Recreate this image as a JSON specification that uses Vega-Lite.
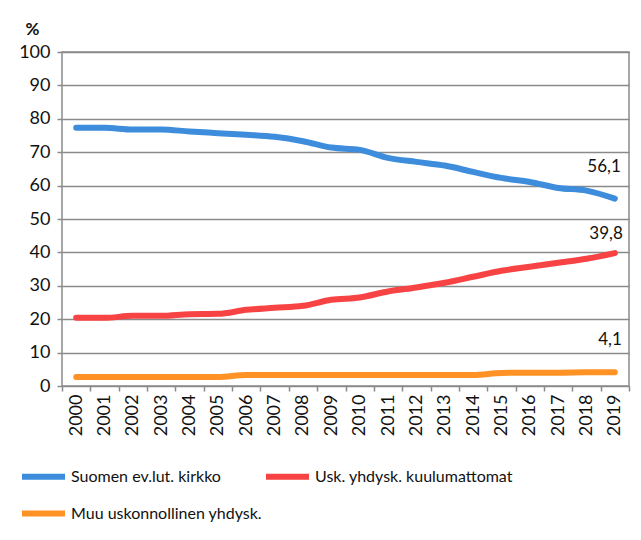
{
  "$schema": "https://vega.github.io/schema/vega-lite/v6.json",
  "width": 567,
  "height": 334,
  "autosize": {"type": "none"},
  "padding": {"left": 62, "top": 52, "right": 12, "bottom": 154},
  "background": "white",
  "config": {
    "font": "Lato",
    "view": {"stroke": "#8a8a8a", "strokeWidth": 1.5},
    "locale": {"number": {"decimal": ",", "thousands": " ", "grouping": [3], "currency": ["", " €"]}}
  },
  "data": {"values": [
    {"year": "2000", "series": "Suomen ev.lut. kirkko", "value": 77.3},
    {"year": "2001", "series": "Suomen ev.lut. kirkko", "value": 77.3},
    {"year": "2002", "series": "Suomen ev.lut. kirkko", "value": 76.8},
    {"year": "2003", "series": "Suomen ev.lut. kirkko", "value": 76.8},
    {"year": "2004", "series": "Suomen ev.lut. kirkko", "value": 76.2},
    {"year": "2005", "series": "Suomen ev.lut. kirkko", "value": 75.7},
    {"year": "2006", "series": "Suomen ev.lut. kirkko", "value": 75.2},
    {"year": "2007", "series": "Suomen ev.lut. kirkko", "value": 74.6},
    {"year": "2008", "series": "Suomen ev.lut. kirkko", "value": 73.3},
    {"year": "2009", "series": "Suomen ev.lut. kirkko", "value": 71.4},
    {"year": "2010", "series": "Suomen ev.lut. kirkko", "value": 70.7},
    {"year": "2011", "series": "Suomen ev.lut. kirkko", "value": 68.3},
    {"year": "2012", "series": "Suomen ev.lut. kirkko", "value": 67.1},
    {"year": "2013", "series": "Suomen ev.lut. kirkko", "value": 66.0},
    {"year": "2014", "series": "Suomen ev.lut. kirkko", "value": 64.1},
    {"year": "2015", "series": "Suomen ev.lut. kirkko", "value": 62.3},
    {"year": "2016", "series": "Suomen ev.lut. kirkko", "value": 61.1},
    {"year": "2017", "series": "Suomen ev.lut. kirkko", "value": 59.3},
    {"year": "2018", "series": "Suomen ev.lut. kirkko", "value": 58.5},
    {"year": "2019", "series": "Suomen ev.lut. kirkko", "value": 56.1},
    {"year": "2000", "series": "Usk. yhdysk. kuulumattomat", "value": 20.4},
    {"year": "2001", "series": "Usk. yhdysk. kuulumattomat", "value": 20.4},
    {"year": "2002", "series": "Usk. yhdysk. kuulumattomat", "value": 21.0},
    {"year": "2003", "series": "Usk. yhdysk. kuulumattomat", "value": 21.0},
    {"year": "2004", "series": "Usk. yhdysk. kuulumattomat", "value": 21.5},
    {"year": "2005", "series": "Usk. yhdysk. kuulumattomat", "value": 21.6},
    {"year": "2006", "series": "Usk. yhdysk. kuulumattomat", "value": 22.8},
    {"year": "2007", "series": "Usk. yhdysk. kuulumattomat", "value": 23.4},
    {"year": "2008", "series": "Usk. yhdysk. kuulumattomat", "value": 24.0},
    {"year": "2009", "series": "Usk. yhdysk. kuulumattomat", "value": 25.8},
    {"year": "2010", "series": "Usk. yhdysk. kuulumattomat", "value": 26.5},
    {"year": "2011", "series": "Usk. yhdysk. kuulumattomat", "value": 28.3},
    {"year": "2012", "series": "Usk. yhdysk. kuulumattomat", "value": 29.5},
    {"year": "2013", "series": "Usk. yhdysk. kuulumattomat", "value": 30.9},
    {"year": "2014", "series": "Usk. yhdysk. kuulumattomat", "value": 32.7},
    {"year": "2015", "series": "Usk. yhdysk. kuulumattomat", "value": 34.5},
    {"year": "2016", "series": "Usk. yhdysk. kuulumattomat", "value": 35.7},
    {"year": "2017", "series": "Usk. yhdysk. kuulumattomat", "value": 36.9},
    {"year": "2018", "series": "Usk. yhdysk. kuulumattomat", "value": 38.1},
    {"year": "2019", "series": "Usk. yhdysk. kuulumattomat", "value": 39.8},
    {"year": "2000", "series": "Muu uskonnollinen yhdysk.", "value": 2.7},
    {"year": "2001", "series": "Muu uskonnollinen yhdysk.", "value": 2.7},
    {"year": "2002", "series": "Muu uskonnollinen yhdysk.", "value": 2.7},
    {"year": "2003", "series": "Muu uskonnollinen yhdysk.", "value": 2.7},
    {"year": "2004", "series": "Muu uskonnollinen yhdysk.", "value": 2.7},
    {"year": "2005", "series": "Muu uskonnollinen yhdysk.", "value": 2.7},
    {"year": "2006", "series": "Muu uskonnollinen yhdysk.", "value": 3.3},
    {"year": "2007", "series": "Muu uskonnollinen yhdysk.", "value": 3.3},
    {"year": "2008", "series": "Muu uskonnollinen yhdysk.", "value": 3.3},
    {"year": "2009", "series": "Muu uskonnollinen yhdysk.", "value": 3.3},
    {"year": "2010", "series": "Muu uskonnollinen yhdysk.", "value": 3.3},
    {"year": "2011", "series": "Muu uskonnollinen yhdysk.", "value": 3.3},
    {"year": "2012", "series": "Muu uskonnollinen yhdysk.", "value": 3.3},
    {"year": "2013", "series": "Muu uskonnollinen yhdysk.", "value": 3.3},
    {"year": "2014", "series": "Muu uskonnollinen yhdysk.", "value": 3.3},
    {"year": "2015", "series": "Muu uskonnollinen yhdysk.", "value": 3.9},
    {"year": "2016", "series": "Muu uskonnollinen yhdysk.", "value": 4.0},
    {"year": "2017", "series": "Muu uskonnollinen yhdysk.", "value": 4.0},
    {"year": "2018", "series": "Muu uskonnollinen yhdysk.", "value": 4.1},
    {"year": "2019", "series": "Muu uskonnollinen yhdysk.", "value": 4.1}
  ]},
  "encoding": {
    "x": {
      "field": "year", "type": "ordinal", "bandPosition": 0.5,
      "scale": {"type": "band", "paddingInner": 0, "paddingOuter": 0},
      "axis": {
        "title": null, "labelAngle": -90, "labelAlign": "right", "labelBaseline": "middle",
        "labelFontSize": 18, "labelColor": "#111", "labelPadding": 3, "labelOverlap": false,
        "tickBand": "extent", "tickSize": 5, "tickColor": "#8a8a8a", "tickWidth": 1.5,
        "domain": false, "grid": false
      }
    },
    "y": {
      "field": "value", "type": "quantitative",
      "scale": {"domain": [0, 100], "nice": false},
      "axis": {
        "title": "%", "titleAngle": 0, "titleX": -30, "titleY": -14, "titleAlign": "center",
        "titleFontSize": 17, "titleFontWeight": "bold", "titleColor": "#111",
        "tickCount": 10,
        "labelFontSize": 18, "labelColor": "#111", "labelPadding": 7, "labelOverlap": false,
        "tickSize": 5, "tickColor": "#8a8a8a", "tickWidth": 1.5,
        "grid": true, "gridColor": "#8a8a8a", "gridWidth": 1.5, "domain": false
      }
    }
  },
  "layer": [
    {
      "mark": {"type": "line", "strokeWidth": 6, "strokeCap": "round", "strokeJoin": "round", "interpolate": "monotone"},
      "encoding": {
        "color": {
          "field": "series", "type": "nominal",
          "scale": {
            "domain": ["Suomen ev.lut. kirkko", "Usk. yhdysk. kuulumattomat", "Muu uskonnollinen yhdysk."],
            "range": ["#3d8ddc", "#f74343", "#ff9224"]
          },
          "legend": {
            "title": null, "orient": "none", "legendX": -43, "legendY": 400,
            "columns": 2, "direction": "horizontal",
            "symbolType": "stroke", "symbolSize": 1849, "symbolStrokeWidth": 6,
            "labelFontSize": 16, "labelColor": "#111", "labelOffset": 3, "labelLimit": 400,
            "columnPadding": -9, "rowPadding": -8, "padding": 0
          }
        }
      }
    },
    {
      "transform": [{"filter": "datum.year == '2019' && datum.series == 'Suomen ev.lut. kirkko'"}],
      "mark": {"type": "text", "align": "right", "baseline": "bottom", "dx": 6, "dy": -23, "fontSize": 17, "color": "#111"},
      "encoding": {
        "text": {"field": "value", "type": "quantitative", "format": ".1f"}
      }
    },
    {
      "transform": [{"filter": "datum.year == '2019' && datum.series == 'Usk. yhdysk. kuulumattomat'"}],
      "mark": {"type": "text", "align": "right", "baseline": "bottom", "dx": 8, "dy": -10, "fontSize": 17, "color": "#111"},
      "encoding": {
        "text": {"field": "value", "type": "quantitative", "format": ".1f"}
      }
    },
    {
      "transform": [{"filter": "datum.year == '2019' && datum.series == 'Muu uskonnollinen yhdysk.'"}],
      "mark": {"type": "text", "align": "right", "baseline": "bottom", "dx": 7, "dy": -23, "fontSize": 17, "color": "#111"},
      "encoding": {
        "text": {"field": "value", "type": "quantitative", "format": ".1f"}
      }
    }
  ]
}
